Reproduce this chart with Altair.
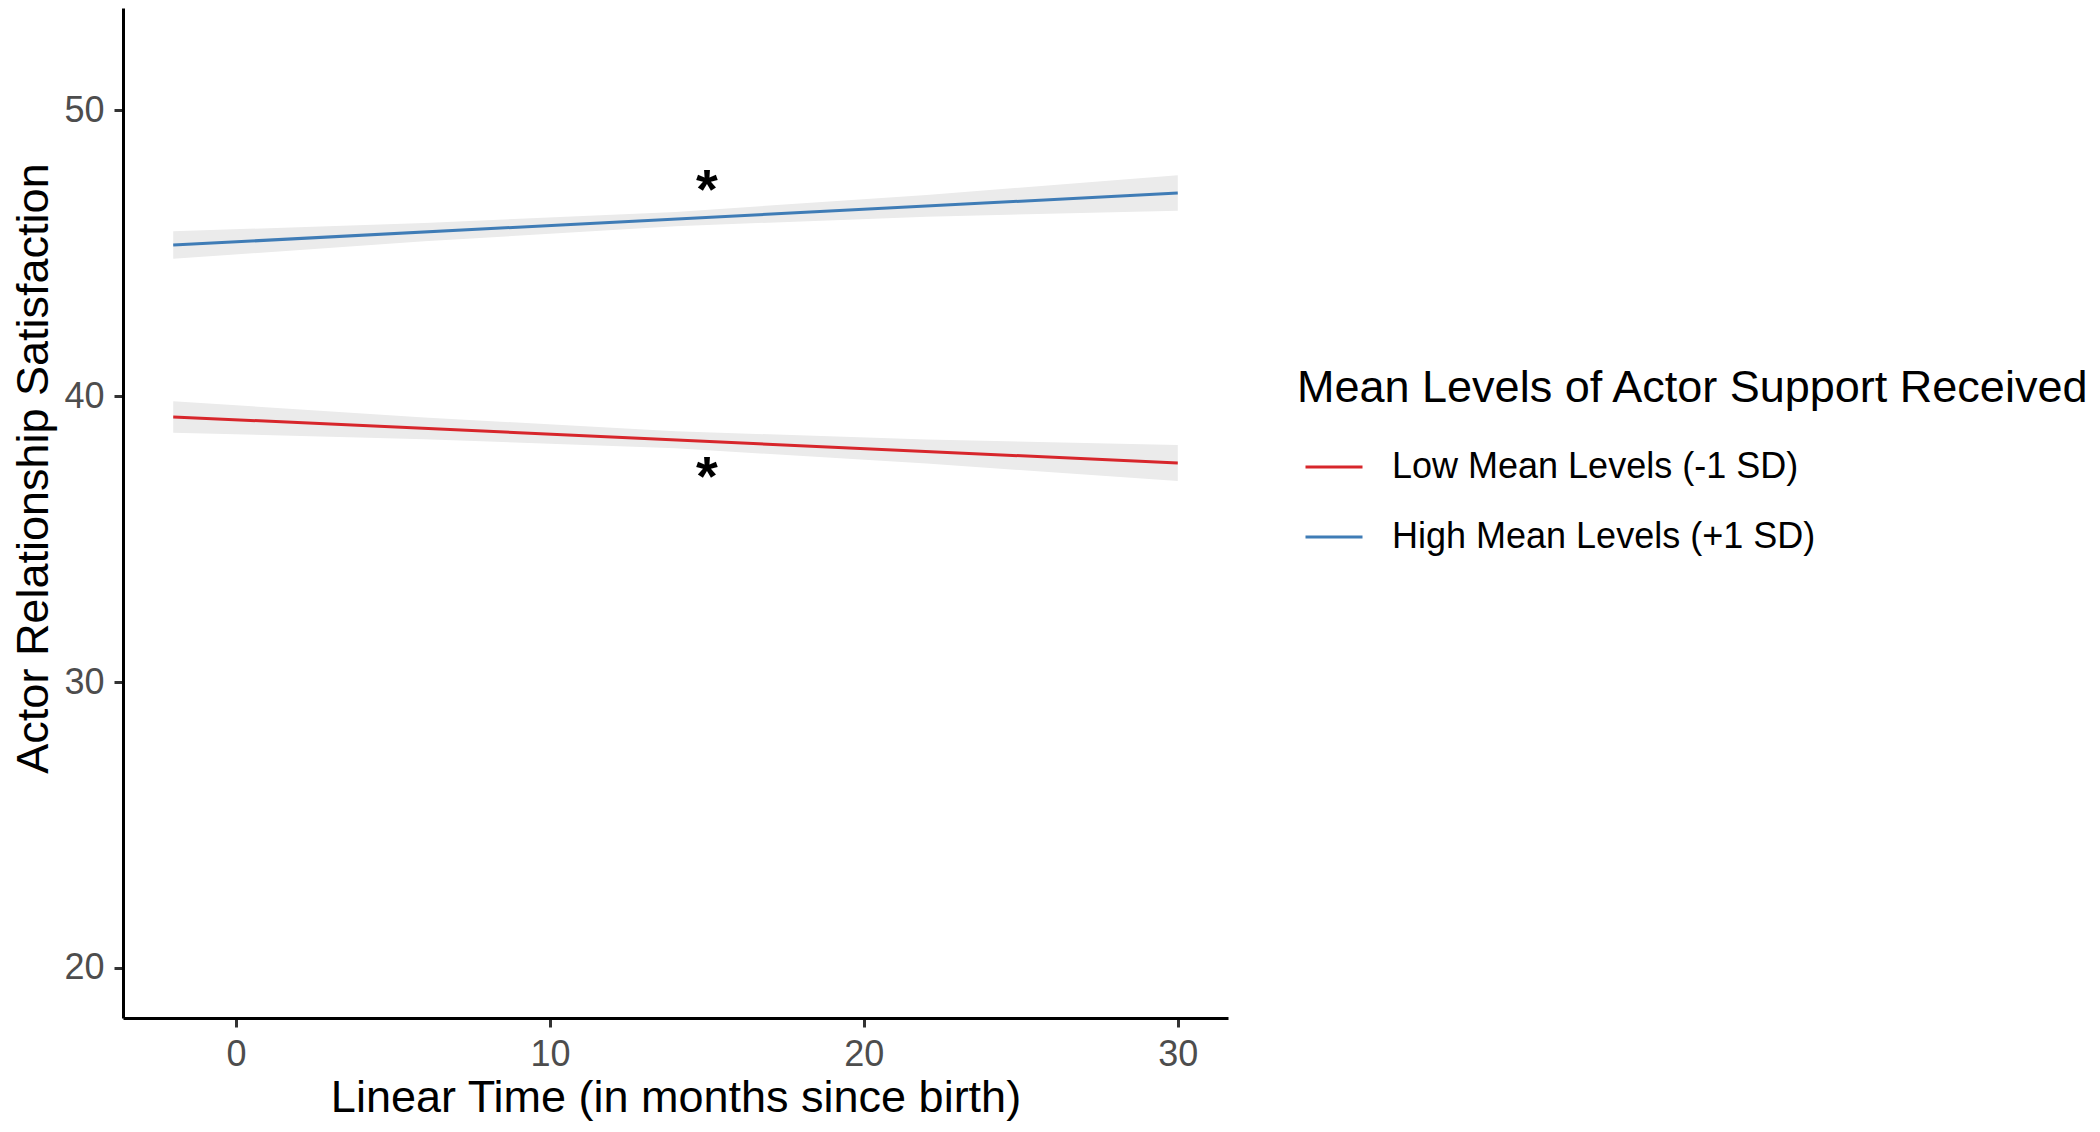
import altair as alt
import pandas as pd

# ---- data ----
series_names = ["Low Mean Levels (-1 SD)", "High Mean Levels (+1 SD)"]
series_colors = ["#D7262B", "#3F7CB6"]

line_time = [-2, 30]
low_line = [39.27, 37.66]
high_line = [45.28, 47.10]

band_time = [-2, 6, 14, 22, 30]
low_lower = [38.72, 38.49, 38.17, 37.64, 37.03]
low_upper = [39.82, 39.25, 38.77, 38.48, 38.29]
high_lower = [44.80, 45.41, 45.94, 46.27, 46.48]
high_upper = [45.76, 46.05, 46.44, 47.03, 47.72]

star_time = [15, 15]
star_value = [47.55, 37.52]
star_label = ["*", "*"]

x_ticks = [0, 10, 20, 30]
y_ticks = [20, 30, 40, 50]

FONT = "Liberation Sans"

lines_df = pd.DataFrame({
    "time": line_time * 2,
    "value": low_line + high_line,
    "series": [series_names[0]] * 2 + [series_names[1]] * 2,
})
band_df = pd.DataFrame({
    "time": band_time * 2,
    "lower": low_lower + high_lower,
    "upper": low_upper + high_upper,
    "series": [series_names[0]] * len(band_time) + [series_names[1]] * len(band_time),
})
star_df = pd.DataFrame({"time": star_time, "value": star_value, "label": star_label})

x_scale = alt.Scale(domain=[-3.6, 31.6], nice=False, zero=False)
y_scale = alt.Scale(domain=[18.25, 53.57], nice=False, zero=False)

x_axis = alt.Axis(
    values=x_ticks, title="Linear Time (in months since birth)",
    grid=False, domainColor="black", domainWidth=3,
    tickColor="#333333", tickWidth=3, tickSize=9,
    labelFont=FONT, labelFontSize=36, labelColor="#4D4D4D", labelPadding=10,
    titleFont=FONT, titleFontSize=45, titleFontWeight="normal", titleColor="black",
    titleBaseline="alphabetic", titleY=93,
)
y_axis = alt.Axis(
    values=y_ticks, title="Actor Relationship Satisfaction",
    grid=False, domainColor="black", domainWidth=3,
    tickColor="#333333", tickWidth=3, tickSize=9,
    labelFont=FONT, labelFontSize=36, labelColor="#4D4D4D", labelPadding=10,
    titleFont=FONT, titleFontSize=45, titleFontWeight="normal", titleColor="black",
    titleBaseline="alphabetic", titleX=-76, titleY=460, titleAngle=-90, titleAlign="center",
)

band = alt.Chart(band_df).mark_area(color="#EBEBEB", opacity=1).encode(
    x=alt.X("time:Q", scale=x_scale, axis=x_axis),
    y=alt.Y("lower:Q", scale=y_scale, axis=y_axis),
    y2="upper:Q",
    detail="series:N",
)

lines = alt.Chart(lines_df).mark_line(strokeWidth=3).encode(
    x=alt.X("time:Q", scale=x_scale),
    y=alt.Y("value:Q", scale=y_scale),
    color=alt.Color(
        "series:N",
        scale=alt.Scale(domain=series_names, range=series_colors),
        sort=series_names,
        legend=alt.Legend(
            orient="none", legendX=1174, legendY=358,
            title="Mean Levels of Actor Support Received",
            titleFont=FONT, titleFontSize=45, titleFontWeight="normal", titleColor="black",
            titleLimit=0, titlePadding=26,
            labelFont=FONT, labelFontSize=36, labelColor="black", labelLimit=0,
            labelOffset=28, rowPadding=22,
            symbolType="stroke", symbolSize=3249, symbolStrokeWidth=3, symbolOffset=7,
            padding=0,
        ),
    ),
)

stars = alt.Chart(star_df).mark_text(
    font=FONT, fontSize=56, fontWeight="bold", color="black",
    baseline="alphabetic", align="center", dy=28,
).encode(
    x=alt.X("time:Q", scale=x_scale),
    y=alt.Y("value:Q", scale=y_scale),
    text="label:N",
)

chart = (band + lines + stars).properties(
    width=1105, height=1010,
    autosize=alt.AutoSizeParams(type="none"),
    padding={"left": 115, "top": 0, "right": 864, "bottom": 104},
    background="white",
).configure_view(stroke=None)

chart.save("out.html", embed_options={"renderer": "svg", "actions": False})
